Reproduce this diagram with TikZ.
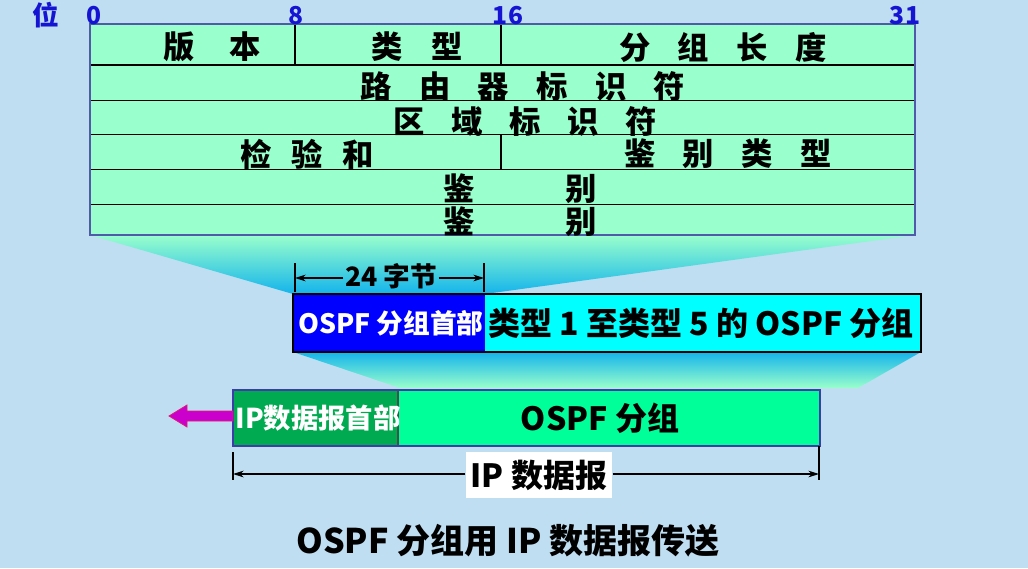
\documentclass[tikz,border=0pt]{standalone}
\usepackage{fontspec}
\setmainfont{Noto Sans CJK SC}
\usetikzlibrary{arrows.meta}
\definecolor{bg}{RGB}{192,222,242}
\definecolor{mint}{RGB}{153,255,204}
\definecolor{tblborder}{RGB}{80,90,170}
\definecolor{bitblue}{RGB}{20,20,210}
\definecolor{hdrblue}{RGB}{0,0,255}
\definecolor{cyanc}{RGB}{0,255,255}
\definecolor{deep}{RGB}{20,180,235}
\definecolor{ipdark}{RGB}{0,170,80}
\definecolor{ipospf}{RGB}{0,255,153}
\definecolor{ipborder}{RGB}{60,60,170}
\definecolor{mag}{RGB}{204,0,204}
\definecolor{magline}{RGB}{220,30,120}
\newcommand\fs[1]{\fontsize{#1}{#1}\selectfont}
\newcommand\spaced[2]{\def\pitchw{#1}\spacedx#2\relax}
\def\spacedx#1{\ifx\relax#1\else\makebox[\pitchw]{#1}\expandafter\spacedx\fi}
\tikzset{
  cell/.style={inner sep=0pt, font=\bfseries\fs{23.5}},
  bitlbl/.style={inner sep=0pt, text=bitblue, font=\bfseries\fs{18.5}},
  dimline/.style={black, line width=0.8pt},
  dimarrow/.style={black, line width=0.8pt, -{Stealth[length=8pt,width=5pt]}},
  gridline/.style={black, line width=0.9pt},
}
\begin{document}
\begin{tikzpicture}[x=0.75pt,y=-0.75pt]
\fill[bg] (0,0) rectangle (1028,568);
\useasboundingbox (0,0) rectangle (1028,568);
% funnels
\shade[top color=mint, bottom color=deep] (90,235) -- (915,235) -- (485,294) -- (293,294) -- cycle;
\shade[top color=deep, bottom color=mint] (293,352) -- (921,352) -- (858,388) -- (400,388) -- cycle;
% table
\fill[mint] (90,24) rectangle (915,235);
\foreach \yy in {65,100.7,134.7,169.3,204.3} \draw[gridline] (90,\yy) -- (915,\yy);
\draw[gridline] (295,24) -- (295,65);
\draw[gridline] (501,24) -- (501,65);
\draw[gridline] (501,134.7) -- (501,169.3);
\draw[tblborder, line width=1.2pt] (90,24) rectangle (915,235);
% bit labels
\node[bitlbl, font=\bfseries\fs{20}] (wei) at (46,15) {位};
\node[bitlbl] (b0) at (94,16) {0};
\node[bitlbl] (b8) at (296,16) {8};
\node[bitlbl] (b16) at (508,16) {16};
\node[bitlbl] (b31) at (905,16) {31};
% table texts
\node[cell] (ver) at (212,47) {\spaced{50pt}{版本}};
\node[cell] (typ) at (417,47) {\spaced{45pt}{类型}};
\node[cell] (len) at (723,47) {\spaced{44pt}{分组长度}};
\node[cell] (rid) at (523,87) {\spaced{44pt}{路由器标识符}};
\node[cell] (aid) at (525,121) {\spaced{43.5pt}{区域标识符}};
\node[cell] (chk) at (307,154) {\spaced{38pt}{检验和}};
\node[cell] (aut) at (728,154) {\spaced{44pt}{鉴别类型}};
\node[cell] (au1) at (520,189) {\spaced{92pt}{鉴别}};
\node[cell] (au2) at (520,222) {\spaced{92pt}{鉴别}};
% OSPF packet
\fill[hdrblue] (293,294) rectangle (485,352);
\fill[cyanc] (485,294) rectangle (921,352);
\draw[black, line width=1.6pt] (293,294) rectangle (921,352);
\node[inner sep=0pt, text=white, font=\bfseries\fs{20}] (ohdr) at (391,323) {OSPF 分组首部};
\node[inner sep=0pt, text=black, font=\bfseries\fs{24}] (obody) at (701,323) {类型 1 至类型 5 的 OSPF 分组};
% 24 bytes dimension
\coordinate (t1a) at (295,263); \coordinate (t1b) at (295,292);
\coordinate (t2a) at (484,263); \coordinate (t2b) at (484,292);
\coordinate (a1) at (295,278); \coordinate (a2) at (484,278);
\draw[dimline] (t1a) -- (t1b);
\draw[dimline] (t2a) -- (t2b);
\node[inner sep=1pt, font=\bfseries\fs{20}] (bytes) at (391,276) {24 字节};
\draw[dimarrow] (bytes.west |- a1) -- (a1);
\draw[dimarrow] (bytes.east |- a2) -- (a2);
% IP datagram
\fill[ipdark] (233,390) rectangle (398,446);
\fill[ipospf] (398,390) rectangle (820,446);
\draw[black!70, line width=0.8pt] (398,390) -- (398,446);
\draw[ipborder, line width=1.6pt] (233,390) rectangle (820,446);
\node[inner sep=0pt, text=white, font=\bfseries\fs{20.5}] (iphdr) at (318,418) {IP数据报首部};
\node[inner sep=0pt, text=black, font=\bfseries\fs{24}] (ipospf) at (600,418) {OSPF 分组};
% magenta arrow
\fill[mag, draw=magline, line width=0.6pt] (233,411) -- (187,411) -- (187,405) -- (169,416) -- (187,427) -- (187,421) -- (233,421) -- cycle;
% IP datagram dimension
\coordinate (d1a) at (233,452); \coordinate (d1b) at (233,480);
\coordinate (d2a) at (819,446); \coordinate (d2b) at (819,480);
\coordinate (e1) at (233,474); \coordinate (e2) at (819,474);
\draw[dimline] (d1a) -- (d1b);
\draw[dimline] (d2a) -- (d2b);
\node[fill=white, inner sep=0pt, minimum width=110pt, minimum height=34pt, font=\bfseries\fs{24}] (iplbl) at (539,475) {IP 数据报};
\draw[dimarrow] (iplbl.west |- e1) -- (e1);
\draw[dimarrow] (iplbl.east |- e2) -- (e2);
% title
\node[inner sep=0pt, font=\bfseries\fs{25.5}] (title) at (508,541) {OSPF 分组用 IP 数据报传送};
\end{tikzpicture}
\end{document}
